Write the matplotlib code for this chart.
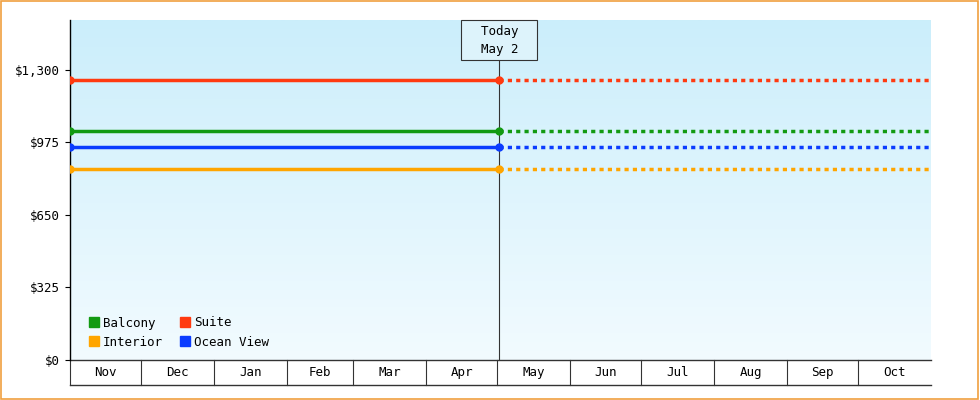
import numpy as np
import matplotlib.pyplot as plt
import matplotlib.dates as mdates
from matplotlib.patches import Rectangle
from matplotlib.lines import Line2D
from matplotlib.colors import LinearSegmentedColormap
import datetime as dt

plt.rcParams['font.family'] = ['DejaVu Sans Mono']

months = ['Nov', 'Dec', 'Jan', 'Feb', 'Mar', 'Apr', 'May', 'Jun', 'Jul', 'Aug', 'Sep', 'Oct']
month_starts = [dt.date(2024, 11, 1), dt.date(2024, 12, 1), dt.date(2025, 1, 1), dt.date(2025, 2, 1),
                dt.date(2025, 3, 1), dt.date(2025, 4, 1), dt.date(2025, 5, 1), dt.date(2025, 6, 1),
                dt.date(2025, 7, 1), dt.date(2025, 8, 1), dt.date(2025, 9, 1), dt.date(2025, 10, 1),
                dt.date(2025, 11, 1)]
today = dt.date(2025, 5, 2)
start = dt.date(2024, 11, 1)
end = dt.date(2025, 11, 1)

series = ['Balcony', 'Interior', 'Suite', 'Ocean View']
prices = [1026, 856, 1255, 955]
colors = ['#129a12', '#ffa500', '#ff3a10', '#0a3cff']
yticks = [0, 325, 650, 975, 1300]

fig = plt.figure(figsize=(9.8, 4), dpi=100)
fig.patches.append(Rectangle((0.001, 0.002), 0.997, 0.995, transform=fig.transFigure,
                             fill=False, edgecolor='#f0a040', linewidth=1.2))
ax = fig.add_axes([70/980, 40/400, 861/980, 340/400])
x0, x1, xt = mdates.date2num(start), mdates.date2num(end), mdates.date2num(today)
ax.set_xlim(x0, x1)
ax.set_ylim(0, 1524)

grad = np.linspace(0, 1, 256).reshape(-1, 1)
cm = LinearSegmentedColormap.from_list('bg', ['#f2fbff', '#cbeefb'])
ax.imshow(grad, aspect='auto', cmap=cm, origin='lower', extent=[x0, x1, 0, 1524], zorder=0)

for name, p, c in zip(series, prices, colors):
    ax.plot([x0, xt], [p, p], color=c, lw=2.5, marker='o', ms=5, zorder=3)
    ax.plot([xt, x1], [p, p], color=c, lw=2.5, ls=(0, (1.2, 1.2)), zorder=3)

ax.axvline(xt, color='#333333', lw=0.8, zorder=2)
ax.text(xt, 1434, '  Today  \n  May 2  ', ha='center', va='center', fontsize=9, zorder=5,
        linespacing=1.5, bbox=dict(boxstyle='square,pad=0.35', fc='#ddf3fb', ec='#333333', lw=0.8))

ax.set_yticks(yticks)
ax.set_yticklabels(['${:,}'.format(v) for v in yticks], fontsize=9)
ax.set_xticks([])
for s in ['top', 'right', 'bottom']:
    ax.spines[s].set_visible(False)
ax.spines['left'].set_linewidth(1)

# month band under the axis
trans = ax.get_xaxis_transform()
band = 25/340
ax.plot([x0, x1], [0, 0], color='#333333', lw=1, transform=trans, clip_on=False)
ax.plot([x0, x1], [-band, -band], color='#333333', lw=1, transform=trans, clip_on=False)
for d in month_starts[:-1]:
    xd = mdates.date2num(d)
    ax.plot([xd, xd], [0, -band], color='#333333', lw=0.8, transform=trans, clip_on=False)
for i, m in enumerate(months):
    xm = (mdates.date2num(month_starts[i]) + mdates.date2num(month_starts[i+1])) / 2
    ax.text(xm, -band/2, m, ha='center', va='center', fontsize=9, transform=trans)

handles = [Line2D([], [], marker='s', ls='', color=c, ms=7) for c in colors]
ax.legend(handles, series, ncol=2, loc='lower left', frameon=False, fontsize=9,
          handletextpad=-0.3, columnspacing=0.8, labelspacing=0.5,
          bbox_to_anchor=(0.0, 0.0))

fig.savefig('out.png', dpi=100)
